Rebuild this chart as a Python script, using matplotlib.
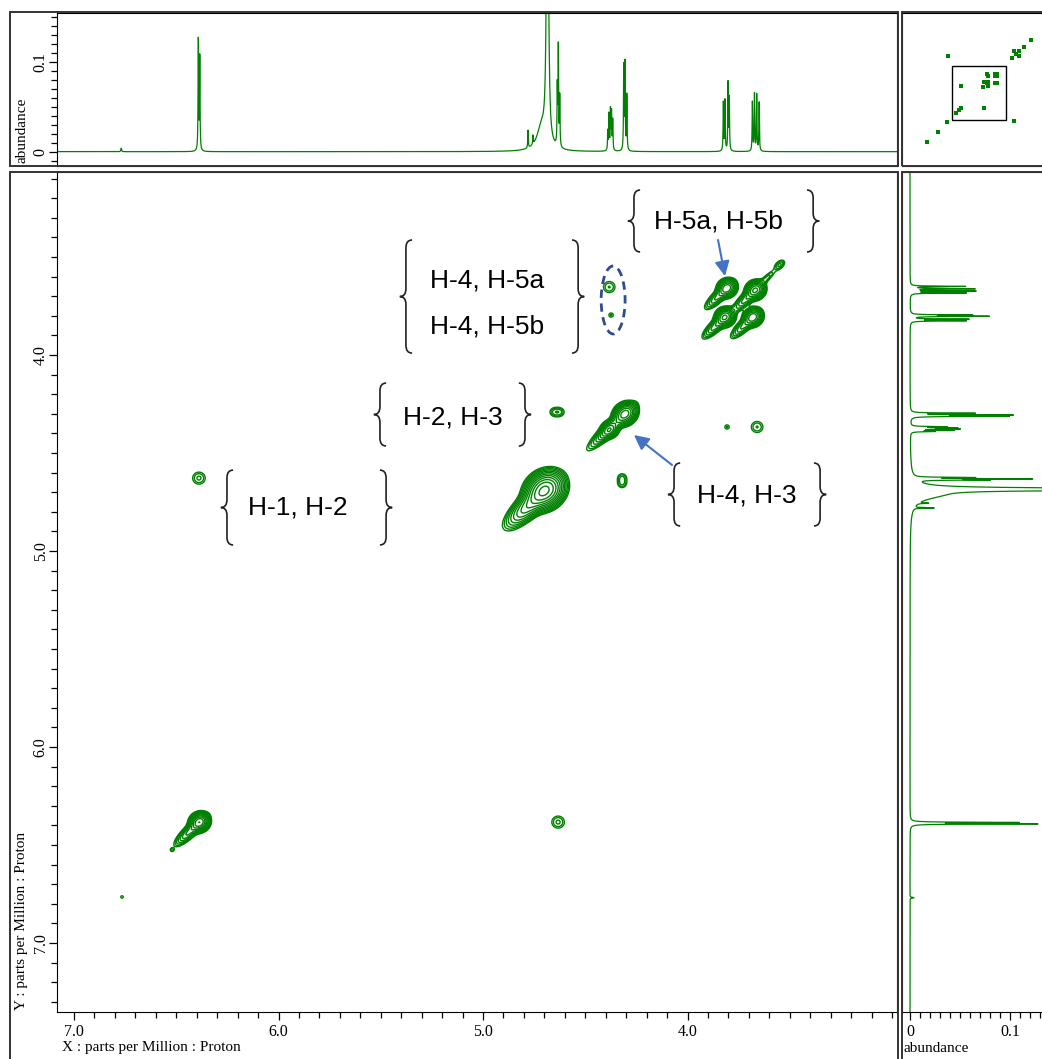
import numpy as np
import matplotlib.pyplot as plt
from matplotlib.patches import Rectangle, Ellipse, PathPatch
from matplotlib.path import Path
from matplotlib.ticker import FixedLocator, MultipleLocator

plt.rcParams['font.family'] = ['Liberation Serif', 'DejaVu Serif']

GREEN = '#008000'
BLUE = '#4472C4'

# ---- 1D proton spectrum: line list read from the projections ----
line_ppm = [6.769, 6.392, 6.385, 4.780, 4.756, 4.715, 4.685, 4.637, 4.632, 4.625,
            4.390, 4.384, 4.377, 4.372, 4.366, 4.312, 4.306, 4.297,
            3.825, 3.817, 3.802, 3.796, 3.683, 3.673, 3.662, 3.650]
line_height = [0.004, 0.124, 0.104, 0.020, 0.010, 0.025, 0.600, 0.064, 0.112, 0.056,
               0.022, 0.040, 0.044, 0.042, 0.034, 0.094, 0.096, 0.062,
               0.055, 0.057, 0.076, 0.058, 0.056, 0.064, 0.063, 0.055]
line_hwhm = [0.002, 0.0015, 0.0015, 0.0015, 0.0015, 0.025, 0.004, 0.0015, 0.0015, 0.0015,
             0.0015, 0.0015, 0.0015, 0.0015, 0.0015, 0.0015, 0.0015, 0.0015,
             0.0015, 0.0015, 0.0015, 0.0015, 0.0015, 0.0015, 0.0015, 0.0015]

# ---- 2D COSY peaks (F2 ppm, F1 ppm, amplitude, width along/across diagonal, tail) ----
pk_x = [6.386, 4.697, 4.305, 4.380, 3.817, 3.668, 3.807, 3.680, 3.610, 3.550,
        6.389, 4.633, 4.652, 4.624, 4.320, 4.320, 4.383, 4.374, 3.807, 3.660, 6.520, 6.765]
pk_y = [6.383, 4.689, 4.300, 4.380, 3.806, 3.668, 3.658, 3.806, 3.605, 3.540,
        4.628, 6.383, 4.291, 4.291, 4.626, 4.657, 3.653, 3.796, 4.367, 4.367, 6.525, 6.765]
pk_amp = [1.0, 1.6, 0.9, 0.5, 0.8, 0.8, 0.7, 0.7, 0.09, 0.12,
          0.085, 0.085, 0.08, 0.08, 0.08, 0.075, 0.08, 0.06, 0.06, 0.08, 0.055, 0.055]
pk_su = [0.024, 0.048, 0.030, 0.020, 0.024, 0.024, 0.024, 0.024, 0.035, 0.020,
         0.025, 0.025, 0.017, 0.017, 0.017, 0.017, 0.024, 0.012, 0.012, 0.024, 0.008, 0.008]
pk_sv = [0.022, 0.040, 0.025, 0.020, 0.022, 0.022, 0.022, 0.022, 0.010, 0.012,
         0.025, 0.025, 0.017, 0.017, 0.017, 0.017, 0.024, 0.012, 0.012, 0.024, 0.008, 0.008]
pk_tail = [0.13, 0.20, 0.20, 0.06, 0.12, 0.12, 0.12, 0.12, 0.0, 0.0,
           0, 0, 0, 0, 0, 0, 0, 0, 0, 0, 0, 0]

# peaks of the full-range overview outside the expanded region
ov_x = [1.05, 1.59, 2.48, 2.20, 1.97, 2.35, 1.97, 7.39, 2.35, 9.00, 8.15, 7.46]
ov_y = [0.93, 1.48, 2.38, 2.10, 1.80, 1.85, 2.25, 2.20, 7.44, 9.10, 8.30, 7.50]

# axis ranges
x_left, x_right = 7.083, 2.976
y_top, y_bot = 3.066, 7.352
ab_min, ab_max = -0.016, 0.155

W, H = 1042, 1059
fig = plt.figure(figsize=(W / 100, H / 100), dpi=100)


def fx(p):
    return p / W


def fy(p):
    return 1 - p / H


ax = fig.add_axes([fx(57), fy(1012), fx(897 - 57), (1012 - 172) / H])
ax_top = fig.add_axes([fx(57), fy(166), fx(897 - 57), (166 - 13) / H])
ax_r = fig.add_axes([fx(902), fy(1012), fx(1042 - 902), (1012 - 172) / H])
ax_ov = fig.add_axes([fx(902), fy(166), fx(1042 - 902), (166 - 13) / H])

# spectrum
ppm = np.linspace(7.5, 2.8, 10000)
spec = np.zeros_like(ppm)
for p0, h, g in zip(line_ppm, line_height, line_hwhm):
    spec += h * g ** 2 / ((ppm - p0) ** 2 + g ** 2)

# 2D map
gx = np.linspace(7.12, 2.94, 1100)
gy = np.linspace(3.03, 7.38, 1150)
X, Y = np.meshgrid(gx, gy)
Z = np.zeros_like(X)
for x0, y0, a, su, sv, tl in zip(pk_x, pk_y, pk_amp, pk_su, pk_sv, pk_tail):
    dx, dy = X - x0, Y - y0
    u = (dx + dy) / np.sqrt(2)
    v = (dx - dy) / np.sqrt(2)
    Z += a * np.exp(-u ** 2 / (2 * su ** 2) - v ** 2 / (2 * sv ** 2))
    if tl > 0:
        Z += a * 0.35 * np.exp(-(u - 0.5 * tl) ** 2 / (2 * (0.4 * tl) ** 2)
                               - v ** 2 / (2 * (0.7 * sv) ** 2))

levels = 0.04 * 1.4 ** np.arange(12)
ax.contour(X, Y, Z, levels=levels, colors=GREEN, linewidths=1.0)
ax.set_xlim(x_left, x_right)
ax.set_ylim(y_bot, y_top)

tick_kw = dict(direction='out', color='black', width=0.9, labelsize=11.5)
ax.xaxis.set_major_locator(FixedLocator([7.0, 6.0, 5.0, 4.0]))
ax.xaxis.set_minor_locator(MultipleLocator(0.1))
ax.yaxis.set_major_locator(FixedLocator([4.0, 5.0, 6.0, 7.0]))
ax.yaxis.set_minor_locator(MultipleLocator(0.1))
ax.set_xticklabels(['7.0', '6.0', '5.0', '4.0'])
ax.set_yticklabels(['4.0', '5.0', '6.0', '7.0'], rotation=90, va='center')
ax.tick_params(which='major', length=6, pad=3, **tick_kw)
ax.tick_params(axis='y', which='major', pad=0)
ax.tick_params(which='minor', length=4, direction='out', width=0.9)

# top projection
ax_top.plot(ppm, spec, color=GREEN, lw=0.9)
ax_top.set_xlim(x_left, x_right)
ax_top.set_ylim(ab_min, ab_max)
ax_top.set_xticks([])
ax_top.yaxis.set_major_locator(FixedLocator([0, 0.1]))
ax_top.yaxis.set_minor_locator(MultipleLocator(0.01))
ax_top.set_yticklabels(['0', '0.1'], rotation=90, va='center')
ax_top.tick_params(which='major', length=6, pad=0, **tick_kw)
ax_top.tick_params(which='minor', length=4, direction='out', width=0.9)

# right projection
ax_r.plot(spec, ppm, color=GREEN, lw=0.9)
ax_r.set_ylim(y_bot, y_top)
ax_r.set_xlim(-0.008, 0.132)
ax_r.set_yticks([])
ax_r.xaxis.set_major_locator(FixedLocator([0, 0.1]))
ax_r.xaxis.set_minor_locator(MultipleLocator(0.01))
ax_r.set_xticklabels(['0', '0.1'])
ax_r.tick_params(which='major', length=6, pad=3, **tick_kw)
ax_r.tick_params(which='minor', length=4, direction='out', width=0.9)
ax_r.spines['right'].set_visible(False)

# overview
ax_ov.scatter(ov_x + pk_x[:8] + pk_x[10:], ov_y + pk_y[:8] + pk_y[10:],
              marker='s', s=5, color=GREEN, linewidths=0)
ax_ov.set_xlim(10.9, 0.22)
ax_ov.set_ylim(11.0, -1.2)
ax_ov.set_xticks([])
ax_ov.set_yticks([])
ax_ov.spines['right'].set_visible(False)
ax_ov.add_patch(Rectangle((x_right, y_top), x_left - x_right, y_bot - y_top,
                          fill=False, ec='black', lw=1))

# outer panel frames
for x0, y0, x1, y1 in [(10, 12, 898, 166), (10, 172, 898, 1065),
                       (902, 12, 1050, 166), (902, 172, 1050, 1065)]:
    fig.patches.append(Rectangle((fx(x0), fy(y1)), fx(x1 - x0), (y1 - y0) / H,
                                 transform=fig.transFigure, fill=False,
                                 ec='#333333', lw=1.4))

# axis titles
fig.text(fx(62), fy(1048), 'X : parts per Million : Proton', ha='left', va='center', fontsize=11)
fig.text(fx(22), fy(1010), 'Y : parts per Million : Proton', ha='center', va='bottom',
         rotation=90, fontsize=11)
fig.text(fx(22), fy(163), 'abundance', ha='center', va='bottom', rotation=90, fontsize=11)
fig.text(fx(904), fy(1049), 'abundance', ha='left', va='center', fontsize=11)


# ---- annotations ----
def brace(x_spine, y0, y1, left=True, w=0.03, r=0.04):
    s = 1 if left else -1   # x axis is reversed: larger ppm is to the left
    m = (y0 + y1) / 2
    verts = [(x_spine - s * w, y0), (x_spine, y0), (x_spine, y0 + r),
             (x_spine, m - r), (x_spine, m), (x_spine + s * w, m),
             (x_spine, m), (x_spine, m + r),
             (x_spine, y1 - r), (x_spine, y1), (x_spine - s * w, y1)]
    codes = [Path.MOVETO, Path.CURVE3, Path.CURVE3,
             Path.LINETO, Path.CURVE3, Path.CURVE3,
             Path.CURVE3, Path.CURVE3,
             Path.LINETO, Path.CURVE3, Path.CURVE3]
    ax.add_patch(PathPatch(Path(verts, codes), fill=False, ec='#222222', lw=1.2))


sans = ['Liberation Sans', 'DejaVu Sans']
labels = [('H-5a, H-5b', 3.851, 3.321), ('H-4, H-5a', 4.980, 3.622),
          ('H-4, H-5b', 4.980, 3.852), ('H-2, H-3', 5.147, 4.321),
          ('H-1, H-2', 5.905, 4.776), ('H-4, H-3', 3.709, 4.719)]
for t, x0, y0 in labels:
    ax.text(x0, y0, t, ha='center', va='center', fontsize=19, family=sans)

brace_spans = [(4.262, 3.386, 3.158, 3.474), (5.377, 4.535, 3.413, 3.990),
               (5.504, 4.795, 4.143, 4.464), (6.252, 5.474, 4.587, 4.969),
               (4.066, 3.352, 4.551, 4.872)]
for xl, xr, y0, y1 in brace_spans:
    brace(xl, y0, y1, left=True)
    brace(xr, y0, y1, left=False)

arrow_kw = dict(arrowstyle='-|>', color=BLUE, lw=1.5, mutation_scale=22,
                shrinkA=0, shrinkB=0)
ax.annotate('', xy=(3.817, 3.597), xytext=(3.851, 3.413), arrowprops=arrow_kw)
ax.annotate('', xy=(4.262, 4.408), xytext=(4.076, 4.561), arrowprops=arrow_kw)

ax.add_patch(Ellipse((4.364, 3.719), 0.117, 0.347, fill=False, ec='#2F4C8C',
                     lw=2, ls=(0, (3, 2))))

fig.savefig('out.png', dpi=100)
